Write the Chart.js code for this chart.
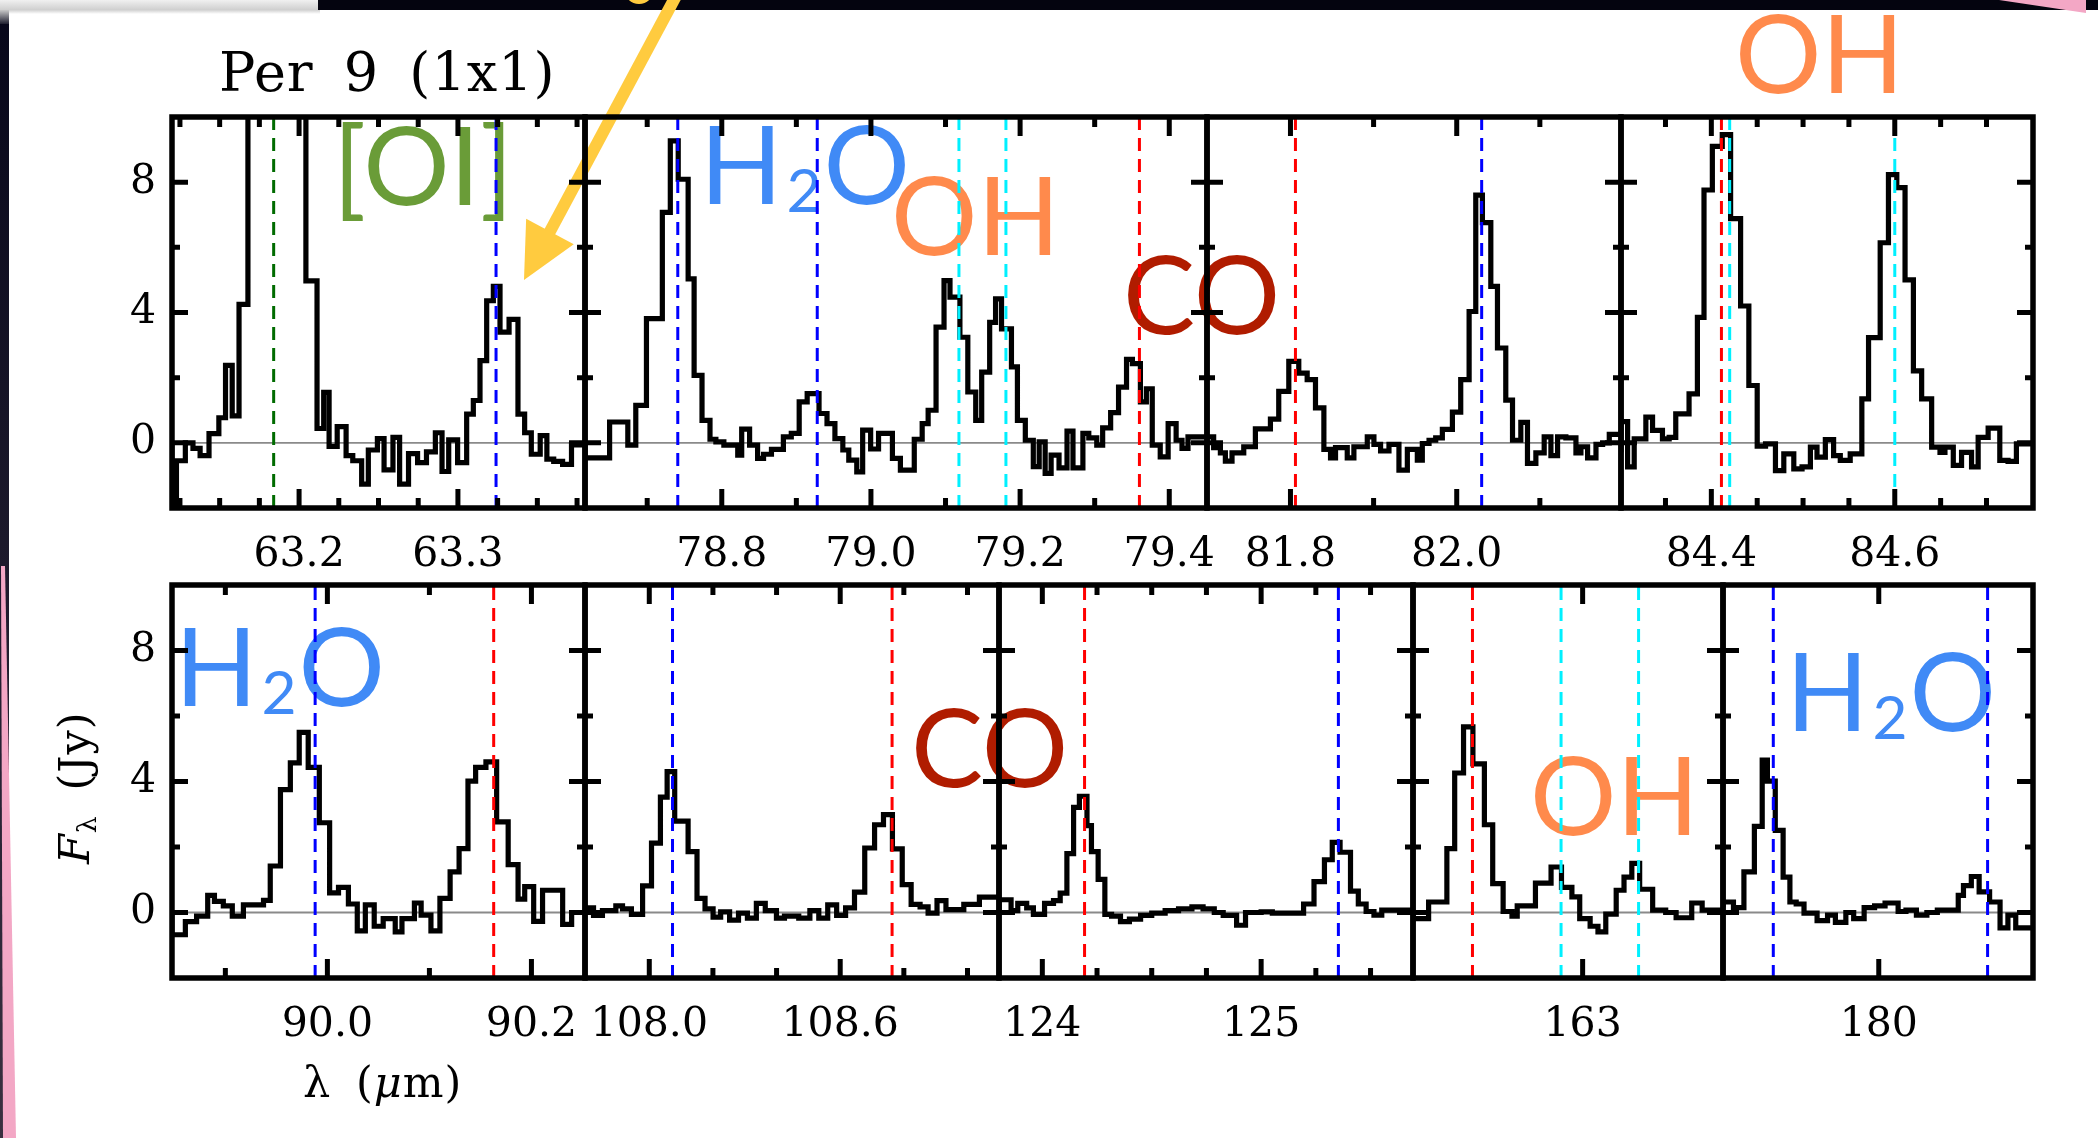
<!DOCTYPE html>
<html>
<head>
<meta charset="utf-8">
<script src="https://cdn.jsdelivr.net/npm/chart.js@4.4.1/dist/chart.umd.min.js"></script>
<style>
  html, body { margin: 0; padding: 0; background: #fff; }
  #stage { position: relative; width: 2098px; height: 1138px; overflow: hidden; background: #fff; }
  #stage canvas { position: absolute; }
  .txt { position: absolute; white-space: nowrap; z-index: 1; color: #000; }
  .serif { font-family: 'DejaVu Serif', serif; }
  .mol { font-family: 'Lato', sans-serif; font-size: 108px; }
  .mol .sub { font-size: 0.56em; position: relative; top: 8px; margin: 0 2px 0 4px; }
</style>
</head>
<body>
<div id="stage">
  <canvas id="bg" width="2098" height="1138" style="left:0;top:0;z-index:0"></canvas>
  <canvas id="arrow" width="2098" height="1138" style="left:0;top:0;z-index:2"></canvas>
</div>
<script>
// ---- spectra: step edges (um) and flux per bin (Jy) ----
const wl632 = [63.1200, 63.1228, 63.1284, 63.1332, 63.1377, 63.1433, 63.1495, 63.1537, 63.1579, 63.1622,
  63.1678, 63.1720, 63.1776, 63.1832, 63.1903, 63.1973, 63.2043, 63.2113, 63.2155, 63.2189, 63.2240,
  63.2296, 63.2338, 63.2394, 63.2436, 63.2493, 63.2535, 63.2591, 63.2633, 63.2689, 63.2746, 63.2802,
  63.2858, 63.2900, 63.2942, 63.2998, 63.3055, 63.3097, 63.3139, 63.3181, 63.3223, 63.3265, 63.3322,
  63.3378, 63.3420, 63.3462, 63.3518, 63.3560, 63.3603, 63.3659, 63.3715, 63.3771, 63.3799];
const fx632 = [-0.06, -1.88, -0.55, 0.0, -0.17, -0.39, 0.28, 0.77, 2.38, 0.83, 4.25, 12, 21, 32, 28, 18, 11,
  4.97, 0.44, 1.55, -0.11, 0.5, -0.39, -0.55, -1.27, -0.22, 0.13, -0.83, 0.17, -1.27, -0.33, -0.61, -0.28,
  0.31, -0.88, 0.09, -0.61, 0.88, 1.3, 2.52, 4.36, 4.8, 3.4, 3.79, 0.88, 0.31, -0.35, 0.22, -0.5, -0.57,
  -0.66, -0.06];

const wl789 = [78.6166, 78.6496, 78.6740, 78.6847, 78.6990, 78.7203, 78.7310, 78.7416, 78.7549, 78.7629,
  78.7735, 78.7842, 78.7921, 78.8028, 78.8214, 78.8267, 78.8373, 78.8480, 78.8560, 78.8666, 78.8826,
  78.8932, 78.9038, 78.9145, 78.9304, 78.9411, 78.9517, 78.9623, 78.9703, 78.9810, 78.9889, 78.9996,
  79.0102, 79.0288, 79.0395, 79.0581, 79.0687, 79.0767, 79.0873, 79.0980, 79.1060, 79.1193, 79.1299,
  79.1405, 79.1485, 79.1592, 79.1671, 79.1751, 79.1884, 79.1964, 79.2070, 79.2177, 79.2256, 79.2336,
  79.2416, 79.2522, 79.2629, 79.2709, 79.2842, 79.2921, 79.3028, 79.3107, 79.3214, 79.3320, 79.3427,
  79.3506, 79.3613, 79.3693, 79.3772, 79.3879, 79.3985, 79.4092, 79.4171, 79.4251, 79.4437, 79.4506];
const fx789 = [0.03, -0.46, 0.64, -0.07, 1.15, 3.81, 7.07, 9.27, 8.09, 5.03, 2.07, 0.69, 0.11, 0.03, -0.07,
  -0.38, 0.42, -0.07, -0.48, -0.35, -0.2, 0.18, 0.29, 1.26, 1.51, 0.9, 0.59, 0.13, -0.22, -0.53, -0.89,
  0.39, -0.19, 0.29, -0.48, -0.84, 0.11, 0.59, 1.0, 3.55, 4.98, 4.47, 3.24, 1.56, 0.69, 2.17, 3.7, 4.42,
  3.5, 2.33, 0.69, 0.08, -0.73, 0.03, -0.94, -0.38, -0.77, 0.36, -0.77, 0.29, 0.15, -0.07, 0.46, 0.93,
  1.71, 2.56, 2.43, 1.26, 1.66, -0.07, -0.43, 0.59, 0.08, -0.17, 0.18];

const wl819 = [81.6996, 81.7076, 81.7157, 81.7217, 81.7297, 81.7438, 81.7578, 81.7759, 81.7859, 81.7980,
  81.8100, 81.8201, 81.8301, 81.8402, 81.8482, 81.8542, 81.8683, 81.8763, 81.8924, 81.9004, 81.9084,
  81.9185, 81.9305, 81.9406, 81.9526, 81.9586, 81.9667, 81.9747, 81.9827, 81.9948, 82.0048, 82.0149,
  82.0229, 82.0309, 82.0410, 82.0490, 82.0590, 82.0671, 82.0771, 82.0851, 82.0952, 82.1052, 82.1133,
  82.1213, 82.1313, 82.1434, 82.1494, 82.1574, 82.1675, 82.1755, 82.1835, 82.1916, 82.1976];
const fx819 = [0.1, 0.18, -0.15, -0.31, -0.56, -0.31, -0.12, 0.43, 0.73, 1.58, 2.5, 2.14, 1.94, 1.07, -0.2,
  -0.46, -0.15, -0.46, -0.12, 0.18, -0.05, -0.25, -0.05, -0.84, -0.2, -0.53, -0.02, 0.08, 0.15, 0.41, 0.94,
  1.94, 4.03, 7.6, 6.76, 4.8, 2.91, 1.31, 0.08, 0.63, -0.63, -0.31, 0.18, -0.39, 0.18, 0.15, -0.31, -0.12,
  -0.46, -0.05, 0.0, 0.26];

const wl845 = [84.3015, 84.3087, 84.3159, 84.3286, 84.3359, 84.3467, 84.3540, 84.3612, 84.3757, 84.3848,
  84.3920, 84.4011, 84.4119, 84.4210, 84.4319, 84.4409, 84.4500, 84.4591, 84.4699, 84.4790, 84.4899,
  84.4989, 84.5080, 84.5152, 84.5243, 84.5333, 84.5406, 84.5514, 84.5641, 84.5714, 84.5841, 84.5931,
  84.6022, 84.6112, 84.6203, 84.6293, 84.6402, 84.6493, 84.6547, 84.6638, 84.6728, 84.6837, 84.6909,
  84.7018, 84.7145, 84.7235, 84.7326, 84.7435, 84.7507];
const fx845 = [-0.29, 0.65, -0.74, 0.12, 0.79, 0.38, 0.12, 0.17, 0.89, 1.5, 3.85, 7.76, 9.1, 9.46, 6.88,
  4.2, 1.76, -0.1, -0.03, -0.85, -0.34, -0.8, -0.74, -0.13, -0.44, 0.1, -0.39, -0.54, -0.34, 1.35, 3.23,
  6.14, 8.23, 7.83, 5.0, 2.21, 1.35, -0.13, -0.29, -0.13, -0.69, -0.29, -0.74, 0.17, 0.45, -0.54, -0.57,
  -0.03];

const wl900 = [89.8477, 89.8608, 89.8718, 89.8827, 89.8893, 89.8980, 89.9068, 89.9177, 89.9374, 89.9440,
  89.9540, 89.9637, 89.9724, 89.9812, 89.9921, 90.0022, 90.0109, 90.0206, 90.0293, 90.0372, 90.0459,
  90.0547, 90.0665, 90.0731, 90.0853, 90.0919, 90.1015, 90.1103, 90.1203, 90.1291, 90.1378, 90.1453,
  90.1554, 90.1659, 90.1772, 90.1869, 90.1934, 90.2022, 90.2109, 90.2197, 90.2306, 90.2394, 90.2481,
  90.2525];
const fx900 = [0.07, -0.68, -0.28, -0.11, 0.52, 0.34, 0.2, -0.11, 0.23, 0.37, 1.42, 3.75, 4.57, 5.5, 4.43,
  2.74, 0.6, 0.77, 0.26, -0.56, 0.23, -0.42, -0.19, -0.59, -0.19, 0.29, -0.08, -0.56, 0.43, 1.24, 1.95,
  4.01, 4.43, 4.6, 2.77, 1.46, 0.41, 0.79, -0.27, 0.68, 0.68, -0.36, 0.0];

const wl1084 = [107.7981, 107.8248, 107.8528, 107.8949, 107.9159, 107.9439, 107.9790, 108.0070, 108.0350,
  108.0561, 108.0799, 108.1220, 108.1500, 108.1752, 108.2005, 108.2243, 108.2524, 108.2804, 108.3084,
  108.3365, 108.3645, 108.3996, 108.4248, 108.4697, 108.5047, 108.5327, 108.5608, 108.5888, 108.6169,
  108.6449, 108.6771, 108.7080, 108.7360, 108.7641, 108.7949, 108.8229, 108.8510, 108.8762, 108.9042,
  108.9323, 108.9603, 108.9884, 109.0374, 109.0655, 109.0977];
const fx1084 = [0.06, 0.14, -0.09, 0.06, 0.2, 0.11, -0.06, 0.81, 2.12, 3.52, 4.3, 2.79, 1.86, 0.43, 0.11,
  -0.14, 0.02, -0.23, -0.02, -0.17, 0.28, 0.06, -0.17, -0.11, -0.17, 0.06, -0.17, 0.23, -0.09, 0.14, 0.62,
  1.97, 2.68, 2.99, 1.94, 0.85, 0.25, 0.17, -0.02, 0.36, 0.09, 0.09, 0.25, 0.47];

const wl1245 = [123.8021, 123.8572, 123.8878, 123.9286, 123.9592, 124.0102, 124.0511, 124.0817, 124.1123,
  124.1429, 124.1694, 124.2041, 124.2245, 124.2551, 124.2858, 124.3164, 124.3572, 124.3980, 124.4490,
  124.5000, 124.5613, 124.6225, 124.6837, 124.7347, 124.7858, 124.8266, 124.8878, 124.9286, 124.9592,
  125.0000, 125.0511, 125.1940, 125.2416, 125.2893, 125.3250, 125.3607, 125.4084, 125.4441, 125.4798,
  125.5156, 125.5513, 125.6347, 125.6942];
const fx1245 = [-0.06, 0.39, 0.06, 0.28, 0.14, -0.06, 0.28, 0.36, 0.59, 1.8, 3.21, 3.55, 2.65, 1.86, 1.01,
  -0.06, -0.11, -0.28, -0.2, -0.09, -0.02, 0.06, 0.11, 0.17, 0.11, 0.0, -0.09, -0.39, 0.0, 0.0, 0.02,
  -0.02, 0.26, 0.94, 1.61, 2.14, 1.84, 0.65, 0.26, 0.03, -0.08, 0.07];

const wl1632 = [162.6026, 162.6576, 162.7219, 162.7494, 162.7806, 162.8136, 162.8540, 162.8833, 162.9200,
  162.9512, 162.9696, 163.0338, 163.0888, 163.1255, 163.1622, 163.1897, 163.2264, 163.2540, 163.2815,
  163.3182, 163.3457, 163.3732, 163.4008, 163.4466, 163.4925, 163.5292, 163.5842, 163.6209, 163.6668,
  163.6943];
const fx1632 = [0.07, -0.19, 0.32, 1.95, 4.26, 5.67, 4.54, 2.68, 0.88, 0.03, -0.11, 0.2, 0.9, 1.39, 0.77,
  0.48, -0.19, -0.42, -0.59, -0.05, 0.68, 1.08, 1.5, 0.71, 0.07, 0.0, -0.16, 0.29, 0.07];

const wl1800 = [179.3015, 179.3484, 179.3953, 179.4422, 179.4773, 179.5007, 179.5359, 179.5711, 179.6015,
  179.6297, 179.6648, 179.7234, 179.7703, 179.8055, 179.8524, 179.8875, 179.9344, 179.9813, 180.0282,
  180.0868, 180.1219, 180.1688, 180.2157, 180.2626, 180.3095, 180.3564, 180.3798, 180.4150, 180.4501,
  180.4970, 180.5439, 180.5791, 180.6142, 180.6494, 180.6916];
const fx1800 = [0.15, 0.32, 0.15, 1.24, 2.63, 4.65, 4.01, 2.51, 1.08, 0.32, 0.26, -0.02, -0.25, -0.08, -0.3,
  0.0, -0.19, 0.15, 0.2, 0.29, 0.03, 0.07, -0.08, 0.0, 0.07, 0.07, 0.52, 0.82, 1.1, 0.63, 0.32, -0.47,
  -0.08, -0.47];

// ---- line identifications (um) ----
const oiLines = [63.184];
const h2oLines = [63.324, 78.741, 78.928, 82.030, 89.988, 108.073, 125.353, 179.527, 180.488];
const ohLines = [79.118, 79.181, 84.420, 84.600, 163.124, 163.397];
const coLines = [79.360, 81.806, 84.411, 90.163, 108.763, 124.193, 162.812];

// ---- axis ticks ----
const yMajor = [0, 4, 8];
const yMinor = [2, 6];
const major632 = [63.2, 63.3], lab632 = ['63.2', '63.3'];
const minor632 = [63.125, 63.15, 63.175, 63.225, 63.25, 63.275, 63.325, 63.35, 63.375];
const major789 = [78.8, 79.0, 79.2, 79.4], lab789 = ['78.8', '79.0', '79.2', '79.4'];
const minor789 = [78.7, 78.9, 79.1, 79.3];
const major819 = [81.8, 82.0], lab819 = ['81.8', '82.0'], minor819 = [81.9, 82.1];
const major845 = [84.4, 84.6], lab845 = ['84.4', '84.6'];
const minor845 = [84.35, 84.45, 84.5, 84.55, 84.65, 84.7];
const major900 = [90.0, 90.2], lab900 = ['90.0', '90.2'], minor900 = [89.9, 90.1];
const major1084 = [108.0, 108.6], lab1084 = ['108.0', '108.6'], minor1084 = [108.2, 108.4, 108.8, 109.0];
const major1245 = [124, 125], lab1245 = ['124', '125'], minor1245 = [124.25, 124.5, 124.75, 125.25, 125.5];
const major1632 = [163.2], lab1632 = ['163'], minor1632 = [];
const major1800 = [180], lab1800 = ['180'], minor1800 = [];

// ---- panel layout ----
const rows = [[117, 508], [585, 978]];
const panels = [
  { row: 0, left: 172, right: 585, range: [63.12, 63.38], wl: wl632, fx: fx632, major: major632, minor: minor632, labels: lab632 },
  { row: 0, left: 585, right: 1207, range: [78.6166, 79.4506], wl: wl789, fx: fx789, major: major789, minor: minor789, labels: lab789 },
  { row: 0, left: 1207, right: 1621, range: [81.6996, 82.1976], wl: wl819, fx: fx819, major: major819, minor: minor819, labels: lab819 },
  { row: 0, left: 1621, right: 2033, range: [84.3015, 84.7507], wl: wl845, fx: fx845, major: major845, minor: minor845, labels: lab845 },
  { row: 1, left: 172, right: 585, range: [89.8477, 90.2525], wl: wl900, fx: fx900, major: major900, minor: minor900, labels: lab900 },
  { row: 1, left: 585, right: 999, range: [107.798, 109.099], wl: wl1084, fx: fx1084, major: major1084, minor: minor1084, labels: lab1084 },
  { row: 1, left: 999, right: 1413, range: [123.802, 125.694], wl: wl1245, fx: fx1245, major: major1245, minor: minor1245, labels: lab1245 },
  { row: 1, left: 1413, right: 1723, range: [162.6026, 163.6943], wl: wl1632, fx: fx1632, major: major1632, minor: minor1632, labels: lab1632 },
  { row: 1, left: 1723, right: 2033, range: [179.3015, 180.6916], wl: wl1800, fx: fx1800, major: major1800, minor: minor1800, labels: lab1800 }
];

const species = [
  { color: '#006b00', lines: oiLines },
  { color: '#0000ff', lines: h2oLines },
  { color: '#00f0ff', lines: ohLines },
  { color: '#ff0000', lines: coLines }
];

const stage = document.getElementById('stage');

// slide frame behind the figure
(function drawBackdrop() {
  const g = document.getElementById('bg').getContext('2d');
  let gr = g.createLinearGradient(0, 0, 0, 14);
  gr.addColorStop(0, '#f0f0f0');
  gr.addColorStop(0.7, '#cfcfcf');
  gr.addColorStop(1, '#ffffff');
  g.fillStyle = gr;
  g.fillRect(0, 0, 320, 14);
  g.fillStyle = '#04040f';
  g.fillRect(318, 0, 1780, 10);
  gr = g.createLinearGradient(0, 0, 0, 1138);
  gr.addColorStop(0, '#07071a');
  gr.addColorStop(0.5, '#1d1a2c');
  gr.addColorStop(1, '#3a3040');
  g.fillStyle = gr;
  g.fillRect(0, 22, 9, 1116);
  gr = g.createLinearGradient(0, 10, 0, 26);
  gr.addColorStop(0, '#c8c8c8');
  gr.addColorStop(1, '#07071a');
  g.fillStyle = gr;
  g.fillRect(0, 10, 9, 14);
  g.fillStyle = '#f3a7c5';
  g.beginPath();
  g.moveTo(1, 566); g.lineTo(5, 566); g.lineTo(16, 1138); g.lineTo(3, 1138);
  g.closePath(); g.fill();
  g.beginPath();
  g.moveTo(1999, 0); g.lineTo(2086, 0); g.lineTo(2086, 13);
  g.closePath(); g.fill();
})();

// yellow pointer to the 63.3 um water line
(function drawArrow() {
  const g = document.getElementById('arrow').getContext('2d');
  const tip = [524, 280], tail = [676, -4];
  const dx = tip[0] - tail[0], dy = tip[1] - tail[1], len = Math.hypot(dx, dy);
  const ux = dx / len, uy = dy / len, px = -uy, py = ux;
  const head = 55, half = 27;
  const bx = tip[0] - ux * head, by = tip[1] - uy * head;
  g.strokeStyle = '#ffcb3f';
  g.fillStyle = '#ffcb3f';
  g.lineWidth = 12;
  g.beginPath(); g.moveTo(tail[0], tail[1]); g.lineTo(bx + ux * 4, by + uy * 4); g.stroke();
  g.beginPath();
  g.moveTo(tip[0], tip[1]);
  g.lineTo(bx + px * half, by + py * half);
  g.lineTo(bx - px * half, by - py * half);
  g.closePath(); g.fill();
  g.lineWidth = 4;
  g.beginPath(); g.arc(639, -11, 13, 0, Math.PI); g.stroke();
})();

// put a text block so that its baseline sits at (x, base)
function addText(html, cls, x, base, extra) {
  const el = document.createElement('div');
  el.className = 'txt ' + cls;
  el.innerHTML = html;
  if (extra) Object.assign(el.style, extra);
  stage.appendChild(el);
  const probe = document.createElement('span');
  probe.style.cssText = 'display:inline-block;width:0;height:0;vertical-align:baseline';
  el.appendChild(probe);
  const b = probe.offsetTop;
  el.removeChild(probe);
  el.style.left = x + 'px';
  el.style.top = (base - b) + 'px';
  return { el, b };
}

addText('Per 9 (1x1)', 'serif', 219, 91, { fontSize: '54px', wordSpacing: '12px', letterSpacing: '1px' });
addText('λ (<i>μ</i>m)', 'serif', 303, 1097, { fontSize: '43px', wordSpacing: '10px', letterSpacing: '1px' });
(function () {
  const t = addText('<i>F</i><span style="font-size:0.62em;position:relative;top:0.28em">λ</span> (Jy)', 'serif', 0, 0,
    { fontSize: '43px', wordSpacing: '10px', letterSpacing: '1px' });
  const bx = 89, by = 864;
  t.el.style.left = bx + 'px';
  t.el.style.top = (by - t.b) + 'px';
  t.el.style.transformOrigin = '0px ' + t.b + 'px';
  t.el.style.transform = 'rotate(-90deg)';
})();

const molLabels = [
  { html: '[OI]', color: '#6a9c38', x: 333, base: 205 },
  { html: 'H<span class="sub">2</span>O', color: '#408af6', x: 700, base: 204 },
  { html: 'OH', color: '#ff8a4c', x: 891, base: 255 },
  { html: 'CO', color: '#b01c00', x: 1123, base: 334 },
  { html: 'OH', color: '#ff8a4c', x: 1735, base: 93 },
  { html: 'H<span class="sub">2</span>O', color: '#408af6', x: 175, base: 706 },
  { html: 'CO', color: '#b01c00', x: 911, base: 787 },
  { html: 'OH', color: '#ff8a4c', x: 1530, base: 835 },
  { html: 'H<span class="sub">2</span>O', color: '#408af6', x: 1786, base: 731 }
];
molLabels.forEach(m => addText(m.html, 'mol', m.x, m.base, { color: m.color }));

// ---- charts ----
const tickFont = { family: 'DejaVu Serif', size: 41 };

function steps(wl, fx) {
  const n = Math.min(fx.length, wl.length - 1);
  const pts = [];
  for (let i = 0; i < n; i++) pts.push({ x: wl[i], y: fx[i] });
  pts.push({ x: wl[n], y: fx[n - 1] });
  return pts;
}

const frame = {
  id: 'frame',
  afterDraw(chart, args, opts) {
    const { ctx, chartArea: a, scales: { x, y } } = chart;
    ctx.save();
    ctx.strokeStyle = '#000';
    ctx.lineWidth = 5;
    ctx.beginPath();
    const xt = (v, len) => {
      const p = x.getPixelForValue(v);
      ctx.moveTo(p, a.bottom); ctx.lineTo(p, a.bottom - len);
      ctx.moveTo(p, a.top); ctx.lineTo(p, a.top + len);
    };
    const yt = (v, len) => {
      const p = y.getPixelForValue(v);
      ctx.moveTo(a.left, p); ctx.lineTo(a.left + len, p);
      ctx.moveTo(a.right, p); ctx.lineTo(a.right - len, p);
    };
    opts.major.forEach(v => xt(v, 19));
    opts.minor.forEach(v => xt(v, 10));
    yMajor.forEach(v => yt(v, 16));
    yMinor.forEach(v => yt(v, 8));
    ctx.stroke();
    ctx.lineWidth = 5.5;
    ctx.strokeRect(a.left, a.top, a.width, a.height);
    ctx.restore();
  }
};

panels.forEach(p => {
  const first = p.left === 172;
  const padL = first ? 80 : 45, padR = 45, padT = 12, axisH = 80, padB = 10;
  const [top, bottom] = rows[p.row];
  const cv = document.createElement('canvas');
  cv.width = p.right - p.left + padL + padR;
  cv.height = bottom - top + padT + axisH + padB;
  cv.style.left = (p.left - padL) + 'px';
  cv.style.top = (top - padT) + 'px';
  cv.style.zIndex = 3;
  stage.appendChild(cv);

  const datasets = [];
  species.forEach(s => s.lines
    .filter(l => l > p.range[0] && l < p.range[1])
    .forEach(l => datasets.push({
      data: [{ x: l, y: -2 }, { x: l, y: 10 }],
      borderColor: s.color, borderWidth: 3, borderDash: [13, 8], order: 0
    })));
  datasets.push({ data: steps(p.wl, p.fx), stepped: 'after', borderColor: '#000', borderWidth: 5.2, order: 1 });
  datasets.push({ data: [{ x: p.range[0], y: 0 }, { x: p.range[1], y: 0 }], borderColor: '#8a8a8a', borderWidth: 1.8, order: 2 });

  new Chart(cv, {
    type: 'line',
    data: { datasets },
    options: {
      responsive: false,
      animation: false,
      devicePixelRatio: 1,
      events: [],
      layout: { padding: { left: first ? 0 : padL, right: padR, top: padT, bottom: padB } },
      elements: {
        point: { radius: 0 },
        line: { tension: 0, borderJoinStyle: 'miter', borderCapStyle: 'butt', fill: false }
      },
      plugins: {
        legend: { display: false },
        tooltip: { enabled: false },
        frame: { major: p.major, minor: p.minor }
      },
      scales: {
        x: {
          type: 'linear', min: p.range[0], max: p.range[1],
          grid: { display: false, drawTicks: false }, border: { display: false },
          ticks: { font: tickFont, color: '#000', padding: 23, maxRotation: 0, autoSkip: false,
                   callback: (v, i) => p.labels[i] },
          afterBuildTicks: s => { s.ticks = p.major.map(v => ({ value: v })); },
          afterFit: s => { s.height = axisH; s.paddingLeft = 0; s.paddingRight = 0; }
        },
        y: {
          min: -2, max: 10, display: first,
          grid: { display: false, drawTicks: false }, border: { display: false },
          ticks: { font: tickFont, color: '#000', padding: 16 },
          afterBuildTicks: s => { s.ticks = yMajor.map(v => ({ value: v })); },
          afterFit: s => { if (first) s.width = padL; s.paddingTop = 0; s.paddingBottom = 0; }
        }
      }
    },
    plugins: [frame]
  });
});
</script>
</body>
</html>
